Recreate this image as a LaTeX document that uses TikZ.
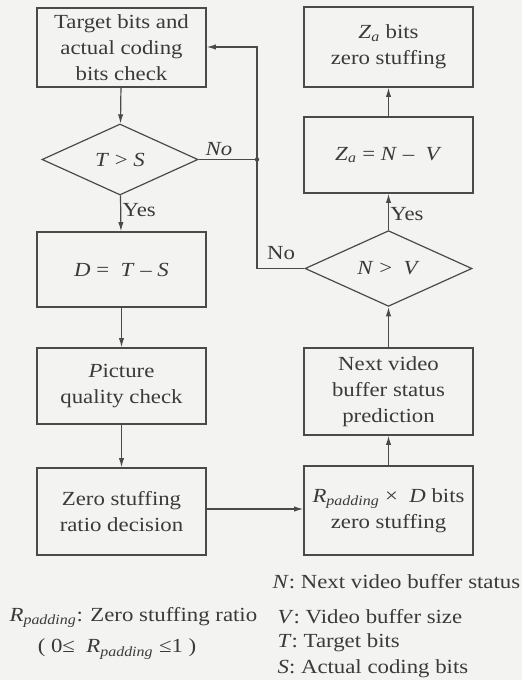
\documentclass[tikz,border=0pt]{standalone}
\usepackage{fontspec}
\setmainfont{Liberation Serif}[FakeStretch=1.14]
\usetikzlibrary{shapes.geometric,arrows.meta}
\definecolor{linec}{HTML}{4A4A4A}
\definecolor{textc}{HTML}{3A3A3A}
\definecolor{bgc}{HTML}{F3F3F1}
\newcommand{\Rpad}{\textit{R}\textsubscript{\textit{padding}}}
\newcommand{\Zsub}{\textit{Z}\textsubscript{\textit{a}}}
\begin{document}
\begin{tikzpicture}[x=0.75pt,y=-0.75pt,
  every node/.style={text=textc,font=\fontsize{15}{19.5}\selectfont},
  box/.style={draw=linec,line width=0.9pt,minimum width=126.75pt,align=center,inner sep=0pt},
  dia/.style={diamond,draw=linec,line width=0.9pt,inner sep=0pt},
  conn/.style={draw=linec,line width=0.9pt},
  arr/.style={conn,-{Latex[length=7pt,width=4pt]}},
  lbl/.style={inner sep=1pt}]
\fill[bgc] (0,0) rectangle (522,680);
\useasboundingbox (0,0) rectangle (522,680);
% left column
\node[box,minimum height=59.25pt] (b1) at (121.5,47.5) {Target bits and\\actual coding\\bits check};
\node[dia,minimum width=117pt,minimum height=53.25pt] (d1) at (120,159.5) {\textit{T} > \textit{S}};
\node[box,minimum height=56.25pt] (b2) at (121.5,269.5) {\textit{D} = \ \textit{T} – \textit{S}};
\node[box,minimum height=57pt] (b3) at (121.5,386) {\textit{P}icture\\quality check};
\node[box,minimum height=65.25pt] (b4) at (121.5,511.5) {Zero stuffing\\ratio decision};
% right column
\node[box,minimum height=60pt] (r1) at (388.5,47) {\Zsub{} bits\\zero stuffing};
\node[box,minimum height=57pt] (r2) at (388.5,155) {\Zsub{} = \textit{N} – \ \textit{V}};
\node[dia,minimum width=125.25pt,minimum height=47.25pt] (d2) at (388.5,268.5) {\textit{N} > \ \textit{V}};
\node[box,minimum height=65.25pt] (r3) at (388.5,391.5) {Next video\\buffer status\\prediction};
\node[box,minimum height=66.75pt] (r4) at (388.5,510.5) {\Rpad{} × \ \textit{D} bits\\zero stuffing};
% connectors
\coordinate (j) at (257,159.5);
\coordinate (jb) at (257,268.5);
\coordinate (jt) at (257,47);
\draw[arr] (b1) -- (d1);
\draw[arr] (d1) -- node[lbl,anchor=west,pos=0.4] {Yes} (b2);
\draw[arr] (b2) -- (b3);
\draw[arr] (b3) -- (b4);
\draw[arr] (b4.east |- 0,509) -- (r4.west |- 0,509);
\draw[arr] (r4) -- (r3);
\draw[arr] (r3) -- (d2);
\draw[arr] (d2) -- node[lbl,anchor=west,pos=0.45] {Yes} (r2);
\draw[arr] (r2) -- (r1);
\draw[conn] (d2.west) -- (jb) -- (j);
\draw[arr] (j) -- (jt) -- (b1.east |- jt);
\draw[conn] (d1.east) -- (j);
\fill[linec] (j) circle (2.2);
\node[lbl] (no1) at (219,149) {\textit{No}};
\node[lbl] (no2) at (281,253) {No};
% legend
\node[lbl,anchor=west] (lN) at (271,582) {\textit{N}: Next video buffer status};
\node[lbl,anchor=west] (lV) at (276,617) {\textit{V}: Video buffer size};
\node[lbl,anchor=west] (lT) at (276,643) {\textit{T}: Target bits};
\node[lbl,anchor=west] (lS) at (276,669) {\textit{S}: Actual coding bits};
\node[lbl,anchor=west] (lR) at (8,617) {\Rpad: Zero stuffing ratio};
\node[lbl] (lR2) at (117,649) {( 0≤ \ \Rpad{} ≤1 )};
\end{tikzpicture}
\end{document}
